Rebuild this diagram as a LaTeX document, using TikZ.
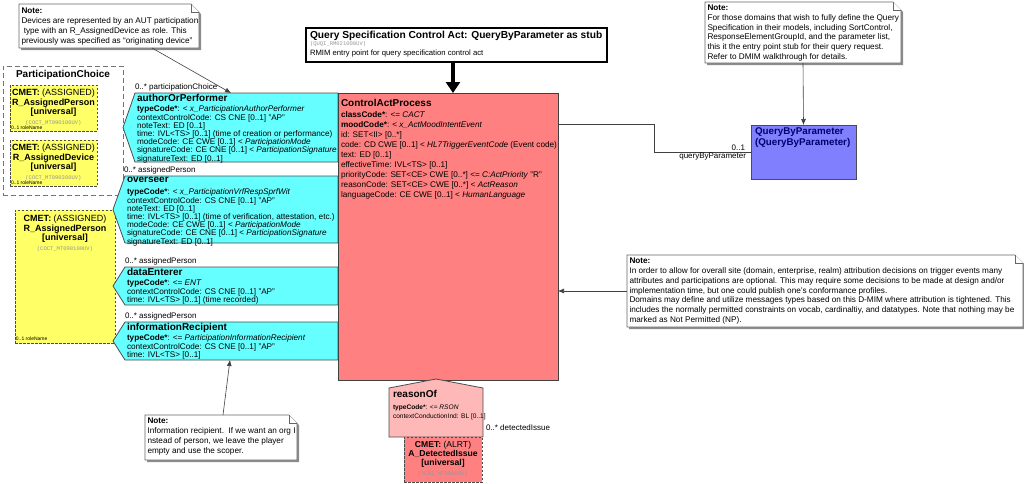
\documentclass[tikz,border=0pt]{standalone}
\usepackage{fontspec}
\setmainfont{Liberation Sans}
\setmonofont{Liberation Mono}
\usetikzlibrary{arrows.meta,calc}
\definecolor{cyanf}{RGB}{102,255,255}
\definecolor{capf}{RGB}{255,128,128}
\definecolor{yelf}{RGB}{255,255,102}
\definecolor{bluef}{RGB}{128,128,255}
\definecolor{rof}{RGB}{255,184,184}
\definecolor{navyc}{RGB}{0,0,110}
\definecolor{codec}{RGB}{150,150,150}
\newcommand{\cdf}{\fontsize{5.5}{6}\ttfamily\color{codec}}
\newcommand{\mynote}[1]{%
  \fill[black!45] ($(#1.north west)+(2,2)$) -- ($(#1.north east)+(-6,2)$) -- ($(#1.north east)+(2,10)$) -- ($(#1.south east)+(2,2)$) -- ($(#1.south west)+(2,2)$) -- cycle;
  \draw[notestyle] (#1.north west) -- ($(#1.north east)+(-8,0)$) -- ($(#1.north east)+(0,8)$) -- (#1.south east) -- (#1.south west) -- cycle;
  \draw[notestyle] ($(#1.north east)+(-8,0)$) -- ($(#1.north east)+(-8,8)$) -- ($(#1.north east)+(0,8)$);}
\newcommand{\mypart}[1]{%
  \draw[part] (#1.north west) -- (#1.north east) -- (#1.south east) -- (#1.south west) -- ($(#1.west)+(-12,0)$) -- cycle;}
\begin{document}
\begin{tikzpicture}[x=1pt,y=-1pt,
  every node/.style={inner sep=0pt, outer sep=0pt},
  area/.style={anchor=north west},
  body/.style={font=\fontsize{8.2}{8.2}\selectfont, align=left, anchor=north west},
  cab/.style={font=\fontsize{8.2}{9.9}\selectfont, align=left, anchor=north west},
  notebody/.style={font=\fontsize{8.2}{9.95}\selectfont, align=left, anchor=north west},
  ttl/.style={font=\fontsize{10}{11}\selectfont\bfseries, anchor=north west},
  lbl/.style={font=\fontsize{8}{8}\selectfont},
  tiny/.style={font=\fontsize{5}{5}\selectfont},
  cmettext/.style={font=\fontsize{9}{9.5}\selectfont, align=center, anchor=north},
  part/.style={draw=black!70, fill=cyanf, line width=0.8pt},
  conn/.style={draw=black!75, line width=0.6pt},
  arr/.style={conn, -{Latex[length=6pt,width=5pt]}},
  notestyle/.style={draw=black!60, fill=white, line width=0.6pt},
  cmet/.style={draw=black!70, dash pattern=on 2.5pt off 1.5pt, fill=yelf, line width=0.9pt}
]
\useasboundingbox (0,0) rectangle (1024,483);

% ---------- ParticipationChoice ----------
\node[area, draw=black!55, dash pattern=on 5pt off 3pt, line width=1pt, fill=white, minimum width=120, minimum height=129] (pc) at (3,66) {};
\node[font=\fontsize{10}{11}\selectfont\bfseries, anchor=north] (pcT) at ($(pc.north)+(0,4)$) {ParticipationChoice};
\node[area, cmet, minimum width=87, minimum height=46] (cm1) at (10,85) {};
\node[cmettext] (cm1T) at ($(cm1.north)+(0,4)$) {\textbf{CMET:} (ASSIGNED)\\\textbf{R\_AssignedPerson}\\\textbf{[universal]}\\{\cdf (COCT\_MT090100UV)}};
\node[tiny, anchor=south west] (cm1L) at ($(cm1.south west)+(1,-1)$) {0..1 roleName};
\node[area, cmet, minimum width=87, minimum height=46] (cm2) at (10,140) {};
\node[cmettext] (cm2T) at ($(cm2.north)+(0,4)$) {\textbf{CMET:} (ASSIGNED)\\\textbf{R\_AssignedDevice}\\\textbf{[universal]}\\{\cdf (COCT\_MT090300UV)}};
\node[tiny, anchor=south west] (cm2L) at ($(cm2.south west)+(1,-1)$) {0..1 roleName};

% ---------- big yellow CMET ----------
\node[area, cmet, minimum width=100, minimum height=133] (cm3) at (15,210) {};
\node[cmettext] (cm3T) at ($(cm3.north)+(0,5)$) {\textbf{CMET:} (ASSIGNED)\\\textbf{R\_AssignedPerson}\\\textbf{[universal]}\\{\cdf (COCT\_MT090100UV)}};
\node[tiny, anchor=south west] (cm3L) at ($(cm3.south west)+(1,-2)$) {0..1 roleName};

% ---------- participations ----------
\node[area, minimum width=203, minimum height=69] (aop) at (135,93) {};
\mypart{aop}
\node[ttl] (aopT) at (137,94.5) {authorOrPerformer};
\node[body] (aopA) at (137,106) {\textbf{typeCode*}: < \textit{x\_ParticipationAuthorPerformer}\\
contextControlCode: CS CNE [0..1] "AP"\\
noteText: ED [0..1]\\
time: IVL<TS> [0..1] (time of creation or performance)\\
modeCode: CE CWE [0..1] < \textit{ParticipationMode}\\
signatureCode: CE CNE [0..1] < \textit{ParticipationSignature}\\
signatureText: ED [0..1]};
\node[lbl, anchor=south west] (aopL) at (135,91) {0..* participationChoice};

\node[area, minimum width=213, minimum height=67] (ovs) at (125,176) {};
\mypart{ovs}
\node[ttl] (ovsT) at (127,177.5) {overseer};
\node[body] (ovsA) at (127,189) {\textbf{typeCode*}: < \textit{x\_ParticipationVrfRespSprfWit}\\
contextControlCode: CS CNE [0..1] "AP"\\
noteText: ED [0..1]\\
time: IVL<TS> [0..1] (time of verification, attestation, etc.)\\
modeCode: CE CWE [0..1] < \textit{ParticipationMode}\\
signatureCode: CE CNE [0..1] < \textit{ParticipationSignature}\\
signatureText: ED [0..1]};
\node[lbl, anchor=south west] (ovsL) at (124,174) {0..* assignedPerson};

\node[area, minimum width=213, minimum height=38] (den) at (125,267) {};
\mypart{den}
\node[ttl] (denT) at (127,268.5) {dataEnterer};
\node[body] (denA) at (127,280) {\textbf{typeCode*}: <= \textit{ENT}\\
contextControlCode: CS CNE [0..1] "AP"\\
time: IVL<TS> [0..1] (time recorded)};
\node[lbl, anchor=south west] (denL) at (125,265) {0..* assignedPerson};

\node[area, minimum width=213, minimum height=38] (ir) at (125,322) {};
\mypart{ir}
\node[ttl] (irT) at (127,323.5) {informationRecipient};
\node[body] (irA) at (127,335) {\textbf{typeCode*}: <= \textit{ParticipationInformationRecipient}\\
contextControlCode: CS CNE [0..1] "AP"\\
time: IVL<TS> [0..1]};
\node[lbl, anchor=south west] (irL) at (125,320) {0..* assignedPerson};

% ---------- ControlActProcess ----------
\node[area, draw=black!75, fill=capf, line width=0.8pt, minimum width=220, minimum height=287] (cap) at (338,93) {};
\node[ttl] (capT) at (341,99) {ControlActProcess};
\node[cab] (capA) at (341,112) {\textbf{classCode*}: <= \textit{CACT}\\
\textbf{moodCode*}: < \textit{x\_ActMoodIntentEvent}\\
id: SET<II> [0..*]\\
code: CD CWE [0..1] < \textit{HL7TriggerEventCode} (Event code)\\
text: ED [0..1]\\
effectiveTime: IVL<TS> [0..1]\\
priorityCode: SET<CE> CWE [0..*] <= \textit{C:ActPriority} "R"\\
reasonCode: SET<CE> CWE [0..*] < \textit{ActReason}\\
languageCode: CE CWE [0..1] < \textit{HumanLanguage}};

% ---------- header ----------
\node[area, draw=black, line width=2pt, fill=white, minimum width=301, minimum height=34] (hdr) at (306,28) {};
\node[font=\fontsize{10.2}{11}\selectfont\bfseries, anchor=north west] (hdrT) at (310,31.5) {Query Specification Control Act: QueryByParameter as stub};
\node[anchor=north west, font=\cdf] (hdrC) at (310,42) {(QUQI\_RM021000UV)};
\node[anchor=north west, font=\fontsize{7.7}{8}\selectfont] (hdrR) at (310,50) {RMIM entry point for query specification control act};
\draw[line width=3.5pt, -{Triangle[length=11pt,width=14pt]}] (hdr.south -| 453,0) -- (cap.north -| 453,0);

% ---------- QueryByParameter ----------
\node[area, draw=black!70, fill=bluef, line width=0.8pt, minimum width=105, minimum height=54] (qbp) at (751,125) {};
\node[font=\fontsize{9.8}{11}\selectfont\bfseries, text=navyc, align=left, anchor=north west] (qbpT) at (755,128) {QueryByParameter\\(QueryByParameter)};
\draw[conn] ($(cap.north east)+(0,31)$) -- ++(96,0) |- (qbp.west);
\node[lbl, anchor=south east] (qbpM) at ($(qbp.west)+(-6,-1)$) {0..1};
\node[lbl, anchor=north east] (qbpR) at ($(qbp.west)+(-5,1)$) {queryByParameter};

% ---------- reasonOf ----------
\node[area, minimum width=94, minimum height=49] (ro) at (389,388) {};
\draw[draw=black!70, fill=rof, line width=0.8pt] (ro.north west) -- ($(ro.north)+(0,-9)$) -- (ro.north east) -- (ro.south east) -- (ro.south west) -- cycle;
\node[ttl] (roT) at (393,390) {reasonOf};
\node[font=\fontsize{6.6}{9.5}\selectfont, align=left, anchor=north west] (roA) at (393,404.5) {\textbf{typeCode*}: <= \textit{RSON}\\contextConductionInd: BL [0..1]};
\node[lbl, anchor=west] (roL) at (486,428) {0..* detectedIssue};
\node[area, draw=black!70, dash pattern=on 2.5pt off 1.5pt, fill=capf, line width=0.9pt, minimum width=78, minimum height=45] (adi) at (404,437) {};
\node[font=\fontsize{8.6}{9.3}\selectfont, align=center, anchor=north] (adiT) at ($(adi.north)+(0,4)$) {\textbf{CMET:} (ALRT)\\\textbf{A\_DetectedIssue}\\\textbf{[universal]}\\{\cdf (HCAI\_MT900001)}};

% ---------- notes ----------
\node[area, minimum width=180, minimum height=44] (n1) at (19,4) {};
\mynote{n1}
\node[notebody] (n1T) at (21.5,8) {\textbf{Note:}\\Devices are represented by an AUT participation\\\ type with an R\_AssignedDevice as role. This\\previously was specified as “originating device”};
\draw[arr] ($(n1.south west)+(133,0)$) -- ($(aop.north west)+(96,0)$);

\node[area, minimum width=196, minimum height=61] (n3) at (705,2) {};
\mynote{n3}
\node[notebody] (n3T) at (707.5,4.5) {\textbf{Note:}\\For those domains that wish to fully define the Query\\Specification in their models, including SortControl,\\ResponseElementGroupId, and the parameter list,\\this it the entry point stub for their query request.\\Refer to DMIM walkthrough for details.};
\draw[arr] (n3.south) -- (qbp.north);

\node[area, minimum width=396, minimum height=72] (n2) at (627,255) {};
\mynote{n2}
\node[notebody] (n2T) at (629.5,257.5) {\textbf{Note:}\\In order to allow for overall site (domain, enterprise, realm) attribution decisions on trigger events many\\attributes and participations are optional. This may require some decisions to be made at design and/or\\implementation time, but one could publish one's conformance profiles.\\Domains may define and utilize messages types based on this D-MIM where attribution is tightened. This\\includes the normally permitted constraints on vocab, cardinaltiy, and datatypes. Note that nothing may be\\marked as Not Permitted (NP).};
\draw[arr] (n2.west) -- (n2.west -| cap.east);

\node[area, minimum width=152, minimum height=45] (n4) at (145,415) {};
\mynote{n4}
\node[notebody] (n4T) at (147.5,418) {\textbf{Note:}\\Information recipient.\ \ If we want an org I\\nstead of person, we leave the player\\empty and use the scoper.};
\draw[arr] ($(n4.north west)+(78,0)$) -- ($(ir.south west)+(105,0)$);
\end{tikzpicture}
\end{document}
